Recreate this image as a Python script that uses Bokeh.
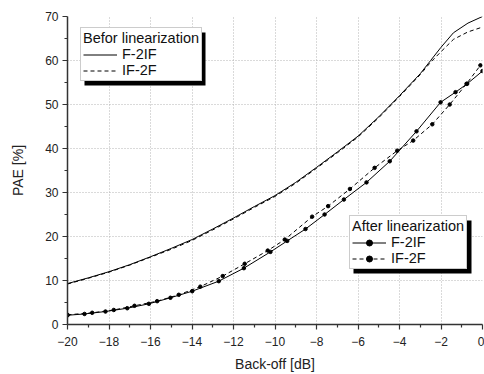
from bokeh.plotting import figure
from bokeh.models import Legend, LegendItem, Range1d, FixedTicker, BoxAnnotation
from bokeh.embed import file_html
from bokeh.resources import INLINE

# ---- data ----
before_x = [-20, -19, -18, -17, -16, -15, -14, -13, -12, -11, -10, -9, -8, -7, -6, -5, -4, -3, -2.5, -2, -1.4, -0.7, 0]
before_f2if = [9.3, 10.6, 12.0, 13.6, 15.4, 17.3, 19.3, 21.7, 24.2, 26.8, 29.3, 32.3, 35.7, 39.2, 42.8, 47.2, 52.0, 57.0, 60.0, 63.0, 66.3, 68.5, 70.0]
before_if2f = [9.2, 10.5, 11.9, 13.5, 15.3, 17.1, 19.1, 21.5, 24.0, 26.6, 29.1, 32.1, 35.5, 39.0, 42.6, 47.0, 51.8, 56.8, 59.6, 62.0, 64.8, 66.5, 67.6]

after_x_f2if = [-20, -19.18, -18.17, -17.12, -16.08, -15.04, -13.99, -12.71, -11.5, -10.22, -9.41, -8.53, -7.61, -6.68, -5.59, -4.47, -3.18, -2.02, -1.3, -0.74, 0]
after_f2if = [2.1, 2.4, 2.95, 3.7, 4.7, 6.07, 7.57, 9.85, 12.8, 16.5, 19.0, 21.7, 25.0, 28.4, 32.3, 37.1, 43.9, 50.5, 52.8, 54.7, 57.6]

after_x_if2f = [-20, -18.81, -17.77, -16.77, -15.68, -14.64, -13.6, -12.52, -11.46, -10.35, -9.53, -8.21, -7.44, -6.39, -5.2, -4.11, -3.34, -2.42, -1.58, -0.77, -0.1]
after_if2f = [2.2, 2.66, 3.3, 4.25, 5.3, 6.75, 8.6, 11.0, 13.8, 16.8, 19.3, 24.5, 26.9, 30.8, 35.6, 39.5, 41.8, 45.5, 50.0, 54.7, 58.9]

x_ticks = [-20, -18, -16, -14, -12, -10, -8, -6, -4, -2, 0]
x_minor = [-19, -17, -15, -13, -11, -9, -7, -5, -3, -1]
y_ticks = [0, 10, 20, 30, 40, 50, 60, 70]
y_minor = [5, 15, 25, 35, 45, 55, 65]

series_names = ["F-2IF", "IF-2F"]
legend_titles = ["Befor linearization", "After linearization"]

FONT = "Liberation Sans"
AX = "#333333"

p = figure(width=484, height=374, output_backend="svg", toolbar_location=None,
           x_range=Range1d(-20, 0), y_range=Range1d(0, 70),
           min_border_left=67, min_border_right=2, min_border_top=16, min_border_bottom=50)
p.outline_line_color = None
p.background_fill_color = "white"
p.border_fill_color = "white"

l1 = p.line(before_x, before_f2if, line_color="black", line_width=1)
l2 = p.line(before_x, before_if2f, line_color="black", line_width=1, line_dash="4 3")
l3 = p.line(after_x_f2if, after_f2if, line_color="black", line_width=1)
s3 = p.scatter(after_x_f2if, after_f2if, size=3.5, color="black")
l4 = p.line(after_x_if2f, after_if2f, line_color="black", line_width=1, line_dash="4 3")
s4 = p.scatter(after_x_if2f, after_if2f, size=3.5, color="black")

# axes
p.xaxis.ticker = FixedTicker(ticks=x_ticks, minor_ticks=x_minor)
p.yaxis.ticker = FixedTicker(ticks=y_ticks, minor_ticks=y_minor)
for ax in (p.xaxis[0], p.yaxis[0]):
    ax.axis_line_color = AX
    ax.axis_line_width = 1.5
    ax.major_tick_line_color = AX
    ax.major_tick_line_width = 1.2
    ax.minor_tick_line_color = AX
    ax.minor_tick_line_width = 1.2
    ax.major_tick_in = 0
    ax.major_tick_out = 5
    ax.minor_tick_in = 0
    ax.minor_tick_out = 3
    ax.major_label_text_font = FONT
    ax.major_label_text_font_size = "12px"
    ax.major_label_text_color = "#222222"
    ax.axis_label_text_font = FONT
    ax.axis_label_text_font_size = "14px"
    ax.axis_label_text_font_style = "normal"
    ax.axis_label_text_color = "#222222"
p.xaxis.axis_label = "Back-off [dB]"
p.yaxis.axis_label = "PAE [%]"
p.xaxis.major_label_standoff = 7
p.xaxis.axis_label_standoff = 7
p.yaxis.major_label_standoff = 4
p.yaxis.axis_label_standoff = 16

for g in (p.xgrid[0], p.ygrid[0]):
    g.grid_line_color = "#b5b5b5"
    g.grid_line_dash = "1 2"
    g.grid_line_width = 1

# legend drop shadows (canvas pixels, decoration only)
p.add_layout(BoxAnnotation(left=84, right=205, top=32, bottom=85,
                           left_units="canvas", right_units="canvas",
                           top_units="canvas", bottom_units="canvas",
                           fill_color="black", fill_alpha=1, line_color=None))
p.add_layout(BoxAnnotation(left=353, right=471, top=220, bottom=273,
                           left_units="canvas", right_units="canvas",
                           top_units="canvas", bottom_units="canvas",
                           fill_color="black", fill_alpha=1, line_color=None))


def make_legend(title, items, loc):
    return Legend(title=title, items=items, location=loc,
                  padding=2, spacing=0, margin=0, label_standoff=5,
                  glyph_width=34, glyph_height=15, label_height=15,
                  label_text_font=FONT, label_text_font_size="14.5px",
                  title_text_font=FONT, title_text_font_size="14.5px",
                  title_text_font_style="normal", title_standoff=0,
                  border_line_width=1, border_line_color="#999999",
                  background_fill_color="white", background_fill_alpha=1,
                  label_text_color="#111111", title_text_color="#111111")


items_before = [LegendItem(label=series_names[0], renderers=[l1]),
                LegendItem(label=series_names[1], renderers=[l2])]
items_after = [LegendItem(label=series_names[0], renderers=[l3, s3]),
               LegendItem(label=series_names[1], renderers=[l4, s4])]

p.add_layout(make_legend(legend_titles[0], items_before, (13, 243)), "center")
p.add_layout(make_legend(legend_titles[1], items_after, (282, 55)), "center")

open("out.html", "w").write(file_html(p, INLINE))
